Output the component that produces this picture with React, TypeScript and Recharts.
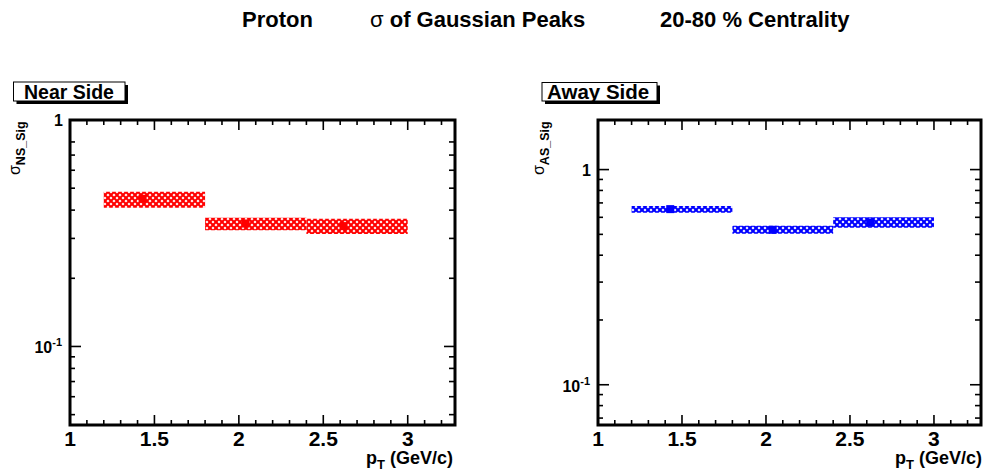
import React from 'react';
import { ComposedChart, XAxis, YAxis, Scatter, ReferenceArea } from 'recharts';

// pT bins (GeV/c)
const ptLow = [1.2, 1.8, 2.4];
const ptHigh = [1.8, 2.4, 3.0];

// near side sigma
const nearPt = [1.43, 2.04, 2.62];
const nearSigma = [0.449, 0.349, 0.34];
const nearSysLow = [0.41, 0.326, 0.314];
const nearSysHigh = [0.482, 0.37, 0.366];

// away side sigma
const awayPt = [1.43, 2.04, 2.62];
const awaySigma = [0.655, 0.525, 0.568];
const awaySysLow = [0.63, 0.503, 0.536];
const awaySysHigh = [0.678, 0.548, 0.6];

// axis ticks
const xTicks = [1, 1.1, 1.2, 1.3, 1.4, 1.5, 1.6, 1.7, 1.8, 1.9, 2, 2.1, 2.2, 2.3, 2.4, 2.5, 2.6, 2.7, 2.8, 2.9, 3, 3.1, 3.2];
const xMajor = [1, 1.5, 2, 2.5, 3];
const xMajorLabels = ['1', '1.5', '2', '2.5', '3'];
const nearYTicks = [0.05, 0.06, 0.07, 0.08, 0.09, 0.1, 0.2, 0.3, 0.4, 0.5, 0.6, 0.7, 0.8, 1];
const awayYTicks = [0.07, 0.08, 0.09, 0.1, 0.2, 0.3, 0.4, 0.5, 0.6, 0.7, 0.8, 0.9, 1];
const yMajor = [0.1, 1];

const FONT = '"Liberation Sans", Arial, Helvetica, sans-serif';
const X_MAX = 3.28;

const near = (a: number, b: number) => Math.abs(a - b) < 1e-6;
const majorX = (v: number) => xMajor.findIndex((m) => near(m, v));
const isMajorY = (v: number) => yMajor.some((m) => near(m, v));

function BottomTick(props: any) {
  const { x, y, payload } = props;
  const i = majorX(payload.value);
  return (
    <g>
      <line x1={x} x2={x} y1={y} y2={y - (i >= 0 ? 10 : 5)} stroke="#000" strokeWidth={1.6} />
      {i >= 0 && (
        <text x={x} y={y + 21} textAnchor="middle" fontFamily={FONT} fontWeight="bold" fontSize={21} fill="#000">
          {xMajorLabels[i]}
        </text>
      )}
    </g>
  );
}

function TopTick(props: any) {
  const { x, y, payload } = props;
  const major = majorX(payload.value) >= 0;
  return <line x1={x} x2={x} y1={y} y2={y + (major ? 10 : 5)} stroke="#000" strokeWidth={1.6} />;
}

function LeftTick(props: any) {
  const { x, y, payload } = props;
  const major = isMajorY(payload.value);
  return (
    <g>
      <line x1={x} x2={x + (major ? 11 : 5)} y1={y} y2={y} stroke="#000" strokeWidth={1.6} />
      {major && near(payload.value, 1) && (
        <text x={x - 7} y={y + 6} textAnchor="end" fontFamily={FONT} fontWeight="bold" fontSize={16} fill="#000">
          1
        </text>
      )}
      {major && near(payload.value, 0.1) && (
        <text x={x - 8} y={y + 7} textAnchor="end" fontFamily={FONT} fontWeight="bold" fontSize={16} fill="#000">
          10
          <tspan dy={-7} fontSize={11}>-1</tspan>
        </text>
      )}
    </g>
  );
}

function RightTick(props: any) {
  const { x, y, payload } = props;
  const major = isMajorY(payload.value);
  return <line x1={x} x2={x - (major ? 11 : 6)} y1={y} y2={y} stroke="#000" strokeWidth={1.6} />;
}

interface PanelProps {
  id: string;
  color: string;
  pt: number[];
  sigma: number[];
  sysLow: number[];
  sysHigh: number[];
  yDomain: [number, number];
  yTicks: number[];
  width: number;
  rightAxis: number;
  left: number;
}

function Panel({ id, color, pt, sigma, sysLow, sysHigh, yDomain, yTicks, width, rightAxis, left }: PanelProps) {
  const points = pt.map((p, i) => ({ pt: p, sigma: sigma[i] }));
  return (
    <div style={{ position: 'absolute', left, top: 0 }}>
      <ComposedChart width={width} height={474} margin={{ top: 100, right: 0, bottom: 0, left: 0 }}>
        <defs>
          <pattern id={id} patternUnits="userSpaceOnUse" width={6} height={6}>
            <path d="M0,0 L6,6 M6,0 L0,6" stroke={color} strokeWidth={2.1} />
          </pattern>
        </defs>
        <XAxis
          xAxisId="b"
          type="number"
          dataKey="pt"
          domain={[1, X_MAX]}
          allowDataOverflow
          ticks={xTicks}
          interval={0}
          tickSize={0}
          tickMargin={0}
          axisLine={false}
          tick={(p: any) => <BottomTick {...p} />}
          height={49}
        />
        <XAxis
          xAxisId="t"
          orientation="top"
          type="number"
          dataKey="pt"
          domain={[1, X_MAX]}
          allowDataOverflow
          ticks={xTicks}
          interval={0}
          tickSize={0}
          tickMargin={0}
          axisLine={false}
          tick={(p: any) => <TopTick {...p} />}
          height={20}
        />
        <YAxis
          yAxisId="l"
          type="number"
          scale="log"
          domain={yDomain}
          allowDataOverflow
          ticks={yTicks}
          interval={0}
          tickSize={0}
          tickMargin={0}
          axisLine={false}
          tick={(p: any) => <LeftTick {...p} />}
          width={70}
        />
        <YAxis
          yAxisId="r"
          orientation="right"
          type="number"
          scale="log"
          domain={yDomain}
          allowDataOverflow
          ticks={yTicks}
          interval={0}
          tickSize={0}
          tickMargin={0}
          axisLine={false}
          tick={(p: any) => <RightTick {...p} />}
          width={rightAxis}
        />
        {pt.map((_, i) => (
          <ReferenceArea
            key={i}
            xAxisId="b"
            yAxisId="l"
            x1={ptLow[i]}
            x2={ptHigh[i]}
            y1={sysLow[i]}
            y2={sysHigh[i]}
            fill={`url(#${id})`}
            fillOpacity={1}
            stroke="none"
          />
        ))}
        <Scatter
          xAxisId="b"
          yAxisId="l"
          data={points}
          dataKey="sigma"
          fill={color}
          isAnimationActive={false}
          shape={(p: any) => <rect x={p.cx - 4} y={p.cy - 4} width={8} height={8} fill={color} />}
        />
        <ReferenceArea
          xAxisId="b"
          yAxisId="l"
          x1={1}
          x2={X_MAX}
          y1={yDomain[0]}
          y2={yDomain[1]}
          fill="none"
          stroke="#000"
          strokeWidth={3}
        />
      </ComposedChart>
    </div>
  );
}

interface LabelBoxProps {
  x: number;
  y: number;
  w: number;
  h: number;
  pad: number;
  text: string;
  size: number;
}

function LabelBox({ x, y, w, h, pad, text, size }: LabelBoxProps) {
  return (
    <g>
      <rect x={x + 3} y={y + 3} width={w} height={h} fill="#000" />
      <rect x={x} y={y} width={w} height={h} fill="#fff" stroke="#000" strokeWidth={1} />
      <text x={x + pad} y={y + h - 2.5} fontFamily={FONT} fontWeight="bold" fontSize={size} fill="#000">
        {text}
      </text>
    </g>
  );
}

export default function App() {
  return (
    <div style={{ position: 'absolute', left: 0, top: 0, width: 985, height: 474, background: '#fff' }}>
      <Panel
        id="hatchNear"
        color="#ff0000"
        pt={nearPt}
        sigma={nearSigma}
        sysLow={nearSysLow}
        sysHigh={nearSysHigh}
        yDomain={[0.045, 1]}
        yTicks={nearYTicks}
        width={470}
        rightAxis={15}
        left={0}
      />
      <Panel
        id="hatchAway"
        color="#0000ff"
        pt={awayPt}
        sigma={awaySigma}
        sysLow={awaySysLow}
        sysHigh={awaySysHigh}
        yDomain={[0.065, 1.7]}
        yTicks={awayYTicks}
        width={457}
        rightAxis={4}
        left={528}
      />
      <svg width={985} height={474} style={{ position: 'absolute', left: 0, top: 0, pointerEvents: 'none' }}>
        <g fontFamily={FONT} fontWeight="bold" fontSize={22} fill="#000">
          <text x={242} y={27}>Proton</text>
          <text x={370} y={27}>
            <tspan fontWeight="normal">σ</tspan> of Gaussian Peaks
          </text>
          <text x={660} y={27}>20-80 % Centrality</text>
        </g>
        <LabelBox x={13.5} y={82} w={111.5} h={19} pad={10.5} text="Near Side" size={19.5} />
        <LabelBox x={542} y={82.5} w={115} h={18.5} pad={5} text="Away Side" size={20.5} />
        <g fontFamily={FONT} fontWeight="bold" fill="#000">
          <text transform="translate(20,175) rotate(-90)" fontSize={16}>
            <tspan fontWeight="normal">σ</tspan>
            <tspan dy={5} fontSize={12.5}>NS_Sig</tspan>
          </text>
          <text transform="translate(544,175) rotate(-90)" fontSize={16}>
            <tspan fontWeight="normal">σ</tspan>
            <tspan dy={5} fontSize={12.5}>AS_Sig</tspan>
          </text>
          <text x={453} y={464} textAnchor="end" fontSize={18}>
            p<tspan dy={5} fontSize={13}>T</tspan>
            <tspan dy={-5}> (GeV/c)</tspan>
          </text>
          <text x={982} y={464} textAnchor="end" fontSize={18}>
            p<tspan dy={5} fontSize={13}>T</tspan>
            <tspan dy={-5}> (GeV/c)</tspan>
          </text>
        </g>
      </svg>
    </div>
  );
}
